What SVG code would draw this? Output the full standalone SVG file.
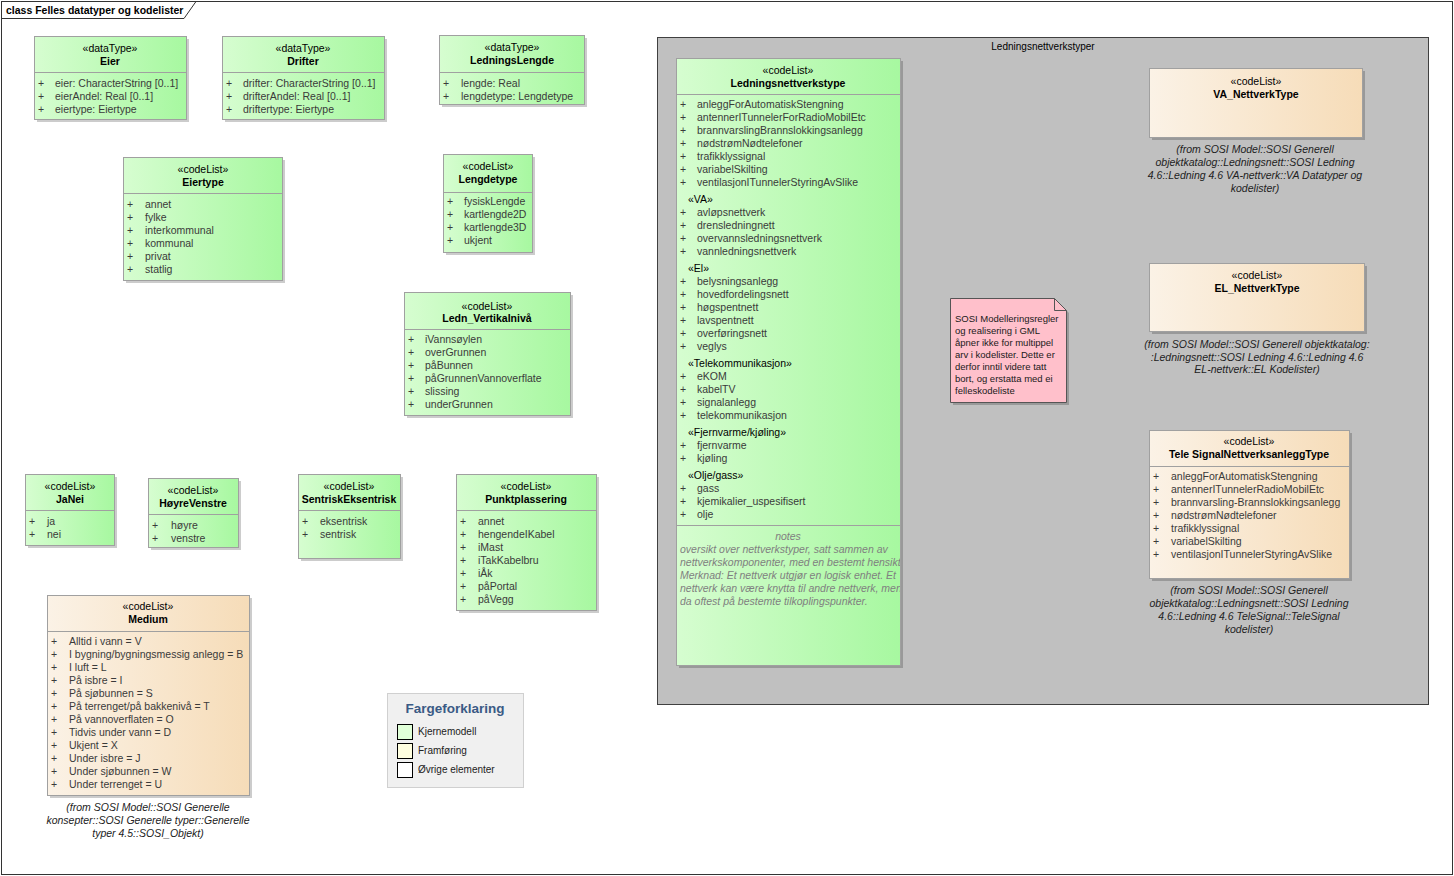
<svg xmlns="http://www.w3.org/2000/svg" width="1454" height="876" viewBox="0 0 1454 876">
<style>
text{font-family:"Liberation Sans",Arial,sans-serif;font-size:10.5px}
.st{text-anchor:middle;fill:#000}
.nm{text-anchor:middle;fill:#000;font-weight:bold}
.at{fill:#3a3a3a}
.sec{fill:#000}
.nt{fill:#808080;font-style:italic}
.ntc{fill:#808080;font-style:italic;text-anchor:middle}
.fr{fill:#222;font-style:italic;text-anchor:middle}
.box{stroke:#a0a0a0;stroke-width:1}
.sh{fill:#000;fill-opacity:0.2}
.dv{stroke:#a0a0a0;stroke-width:1}
.note{font-size:9.5px;fill:#1a1a1a}
.lg{font-size:10px;fill:#222}
</style>
<defs>
<linearGradient id="gg" x1="0" y1="0" x2="1" y2="0"><stop offset="0" stop-color="#d6fdd0"/><stop offset="1" stop-color="#a7f8a0"/></linearGradient>
<linearGradient id="gb" x1="0" y1="0" x2="1" y2="0"><stop offset="0" stop-color="#fbf2e6"/><stop offset="1" stop-color="#f6dcb8"/></linearGradient>
<clipPath id="lntclip"><rect x="676" y="58" width="224" height="607"/></clipPath>
</defs>
<rect x="0" y="0" width="1454" height="876" fill="#fff"/>
<g id="frame">
<rect x="1.5" y="1.5" width="1451" height="873" fill="none" stroke="#333" stroke-width="1"/>
<path d="M1.5 18.5 H184 L196 1.5" fill="none" stroke="#333" stroke-width="1"/>
<text x="6" y="14" style="font-weight:bold;fill:#000">class Felles datatyper og kodelister</text>
</g>

<g id="pkg-ledningsnettverkstyper">
<rect x="657.5" y="37.5" width="771" height="667" fill="#c0c0c0" stroke="#404040" stroke-width="1"/>
<text x="1043" y="50" style="text-anchor:middle;font-size:10px;fill:#000">Ledningsnettverkstyper</text>
</g>

<g id="connectors"></g>

<g id="eier">
<rect class="sh" x="37" y="39" width="152" height="83"/>
<rect class="box" x="34.5" y="36.5" width="152" height="83" fill="url(#gg)"/>
<line class="dv" x1="34.5" y1="72.5" x2="186.5" y2="72.5"/>
<text class="st" x="110" y="52">«dataType»</text>
<text class="nm" x="110" y="65">Eier</text>
<text class="at" x="38" y="87">+</text><text class="at" x="55" y="87">eier: CharacterString [0..1]</text>
<text class="at" x="38" y="100">+</text><text class="at" x="55" y="100">eierAndel: Real [0..1]</text>
<text class="at" x="38" y="113">+</text><text class="at" x="55" y="113">eiertype: Eiertype</text>
</g>

<g id="drifter">
<rect class="sh" x="225" y="39" width="162" height="83"/>
<rect class="box" x="222.5" y="36.5" width="162" height="83" fill="url(#gg)"/>
<line class="dv" x1="222.5" y1="72.5" x2="384.5" y2="72.5"/>
<text class="st" x="303" y="52">«dataType»</text>
<text class="nm" x="303" y="65">Drifter</text>
<text class="at" x="226" y="87">+</text><text class="at" x="243" y="87">drifter: CharacterString [0..1]</text>
<text class="at" x="226" y="100">+</text><text class="at" x="243" y="100">drifterAndel: Real [0..1]</text>
<text class="at" x="226" y="113">+</text><text class="at" x="243" y="113">driftertype: Eiertype</text>
</g>

<g id="ledningslengde">
<rect class="sh" x="442" y="38" width="145" height="69"/>
<rect class="box" x="439.5" y="35.5" width="145" height="69" fill="url(#gg)"/>
<line class="dv" x1="439.5" y1="72.5" x2="584.5" y2="72.5"/>
<text class="st" x="512" y="51">«dataType»</text>
<text class="nm" x="512" y="64">LedningsLengde</text>
<text class="at" x="443" y="87">+</text><text class="at" x="461" y="87">lengde: Real</text>
<text class="at" x="443" y="100">+</text><text class="at" x="461" y="100">lengdetype: Lengdetype</text>
</g>

<g id="eiertype">
<rect class="sh" x="126" y="160" width="159" height="123"/>
<rect class="box" x="123.5" y="157.5" width="159" height="123" fill="url(#gg)"/>
<line class="dv" x1="123.5" y1="193.5" x2="282.5" y2="193.5"/>
<text class="st" x="203" y="173">«codeList»</text>
<text class="nm" x="203" y="186">Eiertype</text>
<text class="at" x="127" y="208">+</text><text class="at" x="145" y="208">annet</text>
<text class="at" x="127" y="221">+</text><text class="at" x="145" y="221">fylke</text>
<text class="at" x="127" y="234">+</text><text class="at" x="145" y="234">interkommunal</text>
<text class="at" x="127" y="247">+</text><text class="at" x="145" y="247">kommunal</text>
<text class="at" x="127" y="260">+</text><text class="at" x="145" y="260">privat</text>
<text class="at" x="127" y="273">+</text><text class="at" x="145" y="273">statlig</text>
</g>

<g id="lengdetype">
<rect class="sh" x="446" y="157" width="89" height="98"/>
<rect class="box" x="443.5" y="154.5" width="89" height="98" fill="url(#gg)"/>
<line class="dv" x1="443.5" y1="192.5" x2="532.5" y2="192.5"/>
<text class="st" x="488" y="170">«codeList»</text>
<text class="nm" x="488" y="183">Lengdetype</text>
<text class="at" x="447" y="205">+</text><text class="at" x="464" y="205">fysiskLengde</text>
<text class="at" x="447" y="218">+</text><text class="at" x="464" y="218">kartlengde2D</text>
<text class="at" x="447" y="231">+</text><text class="at" x="464" y="231">kartlengde3D</text>
<text class="at" x="447" y="244">+</text><text class="at" x="464" y="244">ukjent</text>
</g>

<g id="ledn-vertikalniva">
<rect class="sh" x="407" y="295" width="166" height="123"/>
<rect class="box" x="404.5" y="292.5" width="166" height="123" fill="url(#gg)"/>
<line class="dv" x1="404.5" y1="329.5" x2="570.5" y2="329.5"/>
<text class="st" x="487" y="310">«codeList»</text>
<text class="nm" x="487" y="322">Ledn_Vertikalnivå</text>
<text class="at" x="408" y="343">+</text><text class="at" x="425" y="343">iVannsøylen</text>
<text class="at" x="408" y="356">+</text><text class="at" x="425" y="356">overGrunnen</text>
<text class="at" x="408" y="369">+</text><text class="at" x="425" y="369">påBunnen</text>
<text class="at" x="408" y="382">+</text><text class="at" x="425" y="382">påGrunnenVannoverflate</text>
<text class="at" x="408" y="395">+</text><text class="at" x="425" y="395">slissing</text>
<text class="at" x="408" y="408">+</text><text class="at" x="425" y="408">underGrunnen</text>
</g>

<g id="ledningsnettverkstype">
<rect class="sh" x="679" y="61" width="224" height="607"/>
<rect class="box" x="676.5" y="58.5" width="224" height="607" fill="url(#gg)"/>
<line class="dv" x1="676.5" y1="94.5" x2="900.5" y2="94.5"/>
<text class="st" x="788" y="74">«codeList»</text>
<text class="nm" x="788" y="87">Ledningsnettverkstype</text>
<text class="at" x="680" y="108">+</text><text class="at" x="697" y="108">anleggForAutomatiskStengning</text>
<text class="at" x="680" y="121">+</text><text class="at" x="697" y="121">antennerITunnelerForRadioMobilEtc</text>
<text class="at" x="680" y="134">+</text><text class="at" x="697" y="134">brannvarslingBrannslokkingsanlegg</text>
<text class="at" x="680" y="147">+</text><text class="at" x="697" y="147">nødstrømNødtelefoner</text>
<text class="at" x="680" y="160">+</text><text class="at" x="697" y="160">trafikklyssignal</text>
<text class="at" x="680" y="173">+</text><text class="at" x="697" y="173">variabelSkilting</text>
<text class="at" x="680" y="186">+</text><text class="at" x="697" y="186">ventilasjonITunnelerStyringAvSlike</text>
<text class="sec" x="688" y="203">«VA»</text>
<text class="at" x="680" y="216">+</text><text class="at" x="697" y="216">avløpsnettverk</text>
<text class="at" x="680" y="229">+</text><text class="at" x="697" y="229">drensledningnett</text>
<text class="at" x="680" y="242">+</text><text class="at" x="697" y="242">overvannsledningsnettverk</text>
<text class="at" x="680" y="255">+</text><text class="at" x="697" y="255">vannledningsnettverk</text>
<text class="sec" x="688" y="272">«El»</text>
<text class="at" x="680" y="285">+</text><text class="at" x="697" y="285">belysningsanlegg</text>
<text class="at" x="680" y="298">+</text><text class="at" x="697" y="298">hovedfordelingsnett</text>
<text class="at" x="680" y="311">+</text><text class="at" x="697" y="311">høgspentnett</text>
<text class="at" x="680" y="324">+</text><text class="at" x="697" y="324">lavspentnett</text>
<text class="at" x="680" y="337">+</text><text class="at" x="697" y="337">overføringsnett</text>
<text class="at" x="680" y="350">+</text><text class="at" x="697" y="350">veglys</text>
<text class="sec" x="688" y="367">«Telekommunikasjon»</text>
<text class="at" x="680" y="380">+</text><text class="at" x="697" y="380">eKOM</text>
<text class="at" x="680" y="393">+</text><text class="at" x="697" y="393">kabelTV</text>
<text class="at" x="680" y="406">+</text><text class="at" x="697" y="406">signalanlegg</text>
<text class="at" x="680" y="419">+</text><text class="at" x="697" y="419">telekommunikasjon</text>
<text class="sec" x="688" y="436">«Fjernvarme/kjøling»</text>
<text class="at" x="680" y="449">+</text><text class="at" x="697" y="449">fjernvarme</text>
<text class="at" x="680" y="462">+</text><text class="at" x="697" y="462">kjøling</text>
<text class="sec" x="688" y="479">«Olje/gass»</text>
<text class="at" x="680" y="492">+</text><text class="at" x="697" y="492">gass</text>
<text class="at" x="680" y="505">+</text><text class="at" x="697" y="505">kjemikalier_uspesifisert</text>
<text class="at" x="680" y="518">+</text><text class="at" x="697" y="518">olje</text>
<line class="dv" x1="676.5" y1="525.5" x2="900.5" y2="525.5"/>
<g clip-path="url(#lntclip)">
<text class="ntc" x="788" y="540">notes</text>
<text class="nt" x="680" y="553">oversikt over nettverkstyper, satt sammen av</text>
<text class="nt" x="680" y="566">nettverkskomponenter, med en bestemt hensikt.</text>
<text class="nt" x="680" y="579">Merknad: Et nettverk utgjør en logisk enhet. Et</text>
<text class="nt" x="680" y="592">nettverk kan være knytta til andre nettverk, men</text>
<text class="nt" x="680" y="605">da oftest på bestemte tilkoplingspunkter.</text>
</g>
</g>

<g id="note">
<path class="sh" d="M953 301 H1057 L1069 313 V405 H953 Z"/>
<path d="M950.5 298.5 H1054.5 L1066.5 310.5 V402.5 H950.5 Z" fill="#ffc0cb" stroke="#555" stroke-width="1"/>
<path d="M1054.5 298.5 V310.5 H1066.5" fill="none" stroke="#555" stroke-width="1"/>
<text class="note" x="955" y="322">SOSI Modelleringsregler</text>
<text class="note" x="955" y="334">og realisering i GML</text>
<text class="note" x="955" y="346">åpner ikke for multippel</text>
<text class="note" x="955" y="358">arv i kodelister. Dette er</text>
<text class="note" x="955" y="370">derfor inntil videre tatt</text>
<text class="note" x="955" y="382">bort, og erstatta med ei</text>
<text class="note" x="955" y="394">felleskodeliste</text>
</g>

<g id="va-nettverktype">
<rect class="sh" x="1152" y="71" width="213" height="69"/>
<rect class="box" x="1149.5" y="68.5" width="213" height="69" fill="url(#gb)"/>
<text class="st" x="1256" y="85">«codeList»</text>
<text class="nm" x="1256" y="98">VA_NettverkType</text>
<text class="fr" x="1255" y="153">(from SOSI Model::SOSI Generell</text>
<text class="fr" x="1255" y="166">objektkatalog::Ledningsnett::SOSI Ledning</text>
<text class="fr" x="1255" y="179">4.6::Ledning 4.6 VA-nettverk::VA Datatyper og</text>
<text class="fr" x="1255" y="192">kodelister)</text>
</g>

<g id="el-nettverktype">
<rect class="sh" x="1152" y="266" width="215" height="68"/>
<rect class="box" x="1149.5" y="263.5" width="215" height="68" fill="url(#gb)"/>
<text class="st" x="1257" y="279">«codeList»</text>
<text class="nm" x="1257" y="292">EL_NettverkType</text>
<text class="fr" x="1257" y="348">(from SOSI Model::SOSI Generell objektkatalog:</text>
<text class="fr" x="1257" y="361">:Ledningsnett::SOSI Ledning 4.6::Ledning 4.6</text>
<text class="fr" x="1257" y="373">EL-nettverk::EL Kodelister)</text>
</g>

<g id="telesignal">
<rect class="sh" x="1152" y="433" width="200" height="148"/>
<rect class="box" x="1149.5" y="430.5" width="200" height="148" fill="url(#gb)"/>
<line class="dv" x1="1149.5" y1="466.5" x2="1349.5" y2="466.5"/>
<text class="st" x="1249" y="445">«codeList»</text>
<text class="nm" x="1249" y="458">Tele SignalNettverksanleggType</text>
<text class="at" x="1153" y="480">+</text><text class="at" x="1171" y="480">anleggForAutomatiskStengning</text>
<text class="at" x="1153" y="493">+</text><text class="at" x="1171" y="493">antennerITunnelerRadioMobilEtc</text>
<text class="at" x="1153" y="506">+</text><text class="at" x="1171" y="506">brannvarsling-Brannslokkingsanlegg</text>
<text class="at" x="1153" y="519">+</text><text class="at" x="1171" y="519">nødstrømNødtelefoner</text>
<text class="at" x="1153" y="532">+</text><text class="at" x="1171" y="532">trafikklyssignal</text>
<text class="at" x="1153" y="545">+</text><text class="at" x="1171" y="545">variabelSkilting</text>
<text class="at" x="1153" y="558">+</text><text class="at" x="1171" y="558">ventilasjonITunnelerStyringAvSlike</text>
<text class="fr" x="1249" y="594">(from SOSI Model::SOSI Generell</text>
<text class="fr" x="1249" y="607">objektkatalog::Ledningsnett::SOSI Ledning</text>
<text class="fr" x="1249" y="620">4.6::Ledning 4.6 TeleSignal::TeleSignal</text>
<text class="fr" x="1249" y="633">kodelister)</text>
</g>

<g id="janei">
<rect class="sh" x="28" y="477" width="89" height="71"/>
<rect class="box" x="25.5" y="474.5" width="89" height="71" fill="url(#gg)"/>
<line class="dv" x1="25.5" y1="510.5" x2="114.5" y2="510.5"/>
<text class="st" x="70" y="490">«codeList»</text>
<text class="nm" x="70" y="503">JaNei</text>
<text class="at" x="29" y="525">+</text><text class="at" x="47" y="525">ja</text>
<text class="at" x="29" y="538">+</text><text class="at" x="47" y="538">nei</text>
</g>

<g id="hoyrevenstre">
<rect class="sh" x="151" y="481" width="90" height="69"/>
<rect class="box" x="148.5" y="478.5" width="90" height="69" fill="url(#gg)"/>
<line class="dv" x1="148.5" y1="514.5" x2="238.5" y2="514.5"/>
<text class="st" x="193" y="494">«codeList»</text>
<text class="nm" x="193" y="507">HøyreVenstre</text>
<text class="at" x="152" y="529">+</text><text class="at" x="171" y="529">høyre</text>
<text class="at" x="152" y="542">+</text><text class="at" x="171" y="542">venstre</text>
</g>

<g id="sentriskeksentrisk">
<rect class="sh" x="301" y="477" width="102" height="84"/>
<rect class="box" x="298.5" y="474.5" width="102" height="84" fill="url(#gg)"/>
<line class="dv" x1="298.5" y1="510.5" x2="400.5" y2="510.5"/>
<text class="st" x="349" y="490">«codeList»</text>
<text class="nm" x="349" y="503">SentriskEksentrisk</text>
<text class="at" x="302" y="525">+</text><text class="at" x="320" y="525">eksentrisk</text>
<text class="at" x="302" y="538">+</text><text class="at" x="320" y="538">sentrisk</text>
</g>

<g id="punktplassering">
<rect class="sh" x="459" y="477" width="140" height="136"/>
<rect class="box" x="456.5" y="474.5" width="140" height="136" fill="url(#gg)"/>
<line class="dv" x1="456.5" y1="510.5" x2="596.5" y2="510.5"/>
<text class="st" x="526" y="490">«codeList»</text>
<text class="nm" x="526" y="503">Punktplassering</text>
<text class="at" x="460" y="525">+</text><text class="at" x="478" y="525">annet</text>
<text class="at" x="460" y="538">+</text><text class="at" x="478" y="538">hengendeIKabel</text>
<text class="at" x="460" y="551">+</text><text class="at" x="478" y="551">iMast</text>
<text class="at" x="460" y="564">+</text><text class="at" x="478" y="564">iTakKabelbru</text>
<text class="at" x="460" y="577">+</text><text class="at" x="478" y="577">iÅk</text>
<text class="at" x="460" y="590">+</text><text class="at" x="478" y="590">påPortal</text>
<text class="at" x="460" y="603">+</text><text class="at" x="478" y="603">påVegg</text>
</g>

<g id="medium">
<rect class="sh" x="50" y="598" width="202" height="200"/>
<rect class="box" x="47.5" y="595.5" width="202" height="200" fill="url(#gb)"/>
<line class="dv" x1="47.5" y1="631.5" x2="249.5" y2="631.5"/>
<text class="st" x="148" y="610">«codeList»</text>
<text class="nm" x="148" y="623">Medium</text>
<text class="at" x="51" y="645">+</text><text class="at" x="69" y="645">Alltid i vann = V</text>
<text class="at" x="51" y="658">+</text><text class="at" x="69" y="658">I bygning/bygningsmessig anlegg = B</text>
<text class="at" x="51" y="671">+</text><text class="at" x="69" y="671">I luft = L</text>
<text class="at" x="51" y="684">+</text><text class="at" x="69" y="684">På isbre = I</text>
<text class="at" x="51" y="697">+</text><text class="at" x="69" y="697">På sjøbunnen = S</text>
<text class="at" x="51" y="710">+</text><text class="at" x="69" y="710">På terrenget/på bakkenivå = T</text>
<text class="at" x="51" y="723">+</text><text class="at" x="69" y="723">På vannoverflaten = O</text>
<text class="at" x="51" y="736">+</text><text class="at" x="69" y="736">Tidvis under vann = D</text>
<text class="at" x="51" y="749">+</text><text class="at" x="69" y="749">Ukjent = X</text>
<text class="at" x="51" y="762">+</text><text class="at" x="69" y="762">Under isbre = J</text>
<text class="at" x="51" y="775">+</text><text class="at" x="69" y="775">Under sjøbunnen = W</text>
<text class="at" x="51" y="788">+</text><text class="at" x="69" y="788">Under terrenget = U</text>
<text class="fr" x="148" y="811">(from SOSI Model::SOSI Generelle</text>
<text class="fr" x="148" y="824">konsepter::SOSI Generelle typer::Generelle</text>
<text class="fr" x="148" y="837">typer 4.5::SOSI_Objekt)</text>
</g>

<g id="legend">
<rect x="387.5" y="693.5" width="136" height="94" fill="#f0f0f0" stroke="#d0d0d0" stroke-width="1"/>
<text x="455" y="713" style="text-anchor:middle;font-weight:bold;font-size:13.5px;fill:#3a5a85">Fargeforklaring</text>
<rect x="397.5" y="724.5" width="15" height="15" fill="#e0ffd8" stroke="#000" stroke-width="1"/>
<text class="lg" x="418" y="735">Kjernemodell</text>
<rect x="397.5" y="743.5" width="15" height="15" fill="#ffffe0" stroke="#000" stroke-width="1"/>
<text class="lg" x="418" y="754">Framføring</text>
<rect x="397.5" y="762.5" width="15" height="15" fill="#ffffff" stroke="#000" stroke-width="1"/>
<text class="lg" x="418" y="773">Øvrige elementer</text>
</g>
</svg>
